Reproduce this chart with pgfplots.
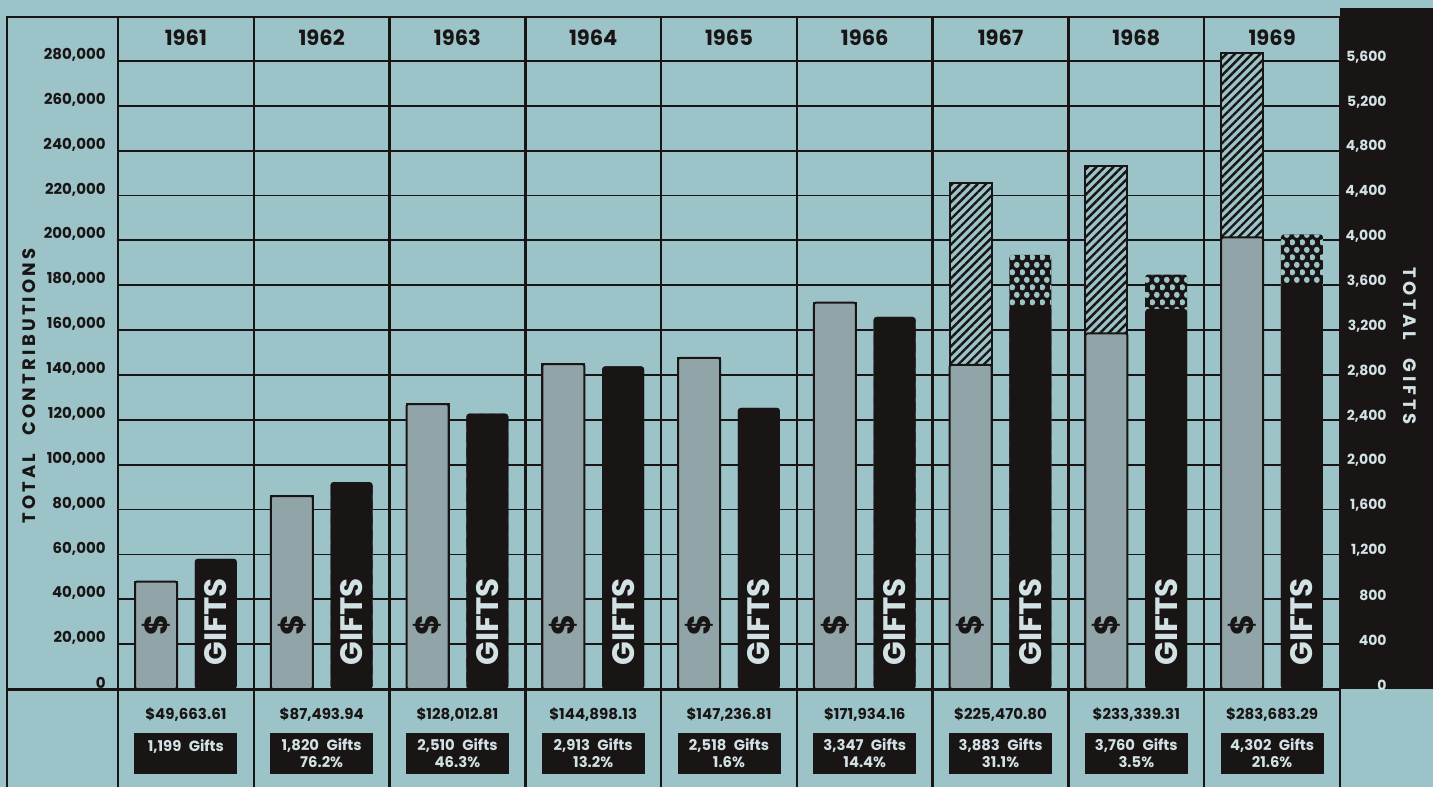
\documentclass[border=0pt]{standalone}
\usepackage{fontspec}
\setmainfont{Poppins}
\usepackage{pgfplots}
\usepackage{pgfplotstable}
\pgfplotsset{compat=1.18}
\usetikzlibrary{patterns,patterns.meta}

\definecolor{paper}{RGB}{155,195,200}
\definecolor{ink}{RGB}{26,21,21}
\definecolor{barg}{RGB}{145,165,168}
\definecolor{chalk}{RGB}{210,226,228}

% light dots punched through the black bars (staggered rows)
\tikzdeclarepattern{
  name=holes, type=uncolored,
  bounding box={(0,0) and (5pt,7.7pt)},
  tile size={(5pt,7.7pt)},
  code={\fill (1.25pt,1.925pt) circle (1.6pt);
        \fill (3.75pt,5.775pt) circle (1.6pt);}
}

% x = column position (one column per year), base = solid part, top = hatched top
\pgfplotstableread{
x     base    top
0.28  47900   47900
1.28  86000   86000
2.28  127000  127000
3.28  144800  144800
4.28  147600  147600
5.28  172200  172200
6.28  144500  225471
7.28  158500  233339
8.28  201300  283683
}\contrib

\pgfplotstableread{
x     base  top
0.72  1160  1160
1.72  1845  1845
2.72  2455  2455
3.72  2876  2876
4.72  2506  2506
5.72  3317  3317
6.72  3407  3871
7.72  3389  3695
8.72  3618  4053
}\gifts

\pgfplotsset{
  chart/.style={
    at={(59pt,49pt)}, anchor=south west, scale only axis,
    width=611pt, height=336.5pt, xmin=0, xmax=9, ymin=0,
    enlargelimits=false, clip=false, axis line style={draw=none},
    xtick=\empty, major tick length=0pt, scaled y ticks=false,
    ybar, bar width=21pt, bar shift=0pt,
    yticklabel style={inner sep=0pt},
  },
}

\newcommand\yr[2]{\node[font=\fontsize{10.5}{12}\selectfont\bfseries, text=ink] at (axis cs:#1,290500) {#2};}
\newcommand\amt[2]{\node[font=\fontsize{7.5}{8}\selectfont\bfseries, text=ink] at (axis cs:#1,-11500) {#2};}
\newcommand\giftbox[2]{\node[fill=ink, text=chalk, minimum width=51.5pt, minimum height=20.5pt, inner sep=0pt,
  align=center, font=\fontsize{7.4}{8.5}\selectfont\bfseries] at (axis cs:#1,-28800) {#2};}

\begin{document}
\begin{tikzpicture}
\fill[paper] (0,0) rectangle (716.5pt,393.5pt);
\fill[ink] (670pt,49pt) rectangle (716.5pt,389.5pt);

\begin{axis}[chart, ymax=300000,
  ytick={0,20000,...,280000},
  yticklabels={0,{20,000},{40,000},{60,000},{80,000},{100,000},{120,000},{140,000},
    {160,000},{180,000},{200,000},{220,000},{240,000},{260,000},{280,000}},
  ymajorgrids, grid style={ink, line width=0.9pt},
  yticklabel style={font=\fontsize{7.5}{9}\selectfont\bfseries, text=ink, anchor=east, xshift=-6pt, yshift=3pt},
]
\addplot[draw=ink, line width=1pt, preaction={fill=paper},
  pattern={Lines[angle=45,distance=3pt,line width=1.2pt]}, pattern color=ink]
  table[x=x, y=top]{\contrib};
\addplot[fill=barg, draw=ink, line width=1pt, rounded corners=1pt]
  table[x=x, y=base]{\contrib};

\yr{0.5}{1961}\yr{1.5}{1962}\yr{2.5}{1963}\yr{3.5}{1964}\yr{4.5}{1965}
\yr{5.5}{1966}\yr{6.5}{1967}\yr{7.5}{1968}\yr{8.5}{1969}

\amt{0.5}{\textdollar49,663.61}\amt{1.5}{\textdollar87,493.94}\amt{2.5}{\textdollar128,012.81}
\amt{3.5}{\textdollar144,898.13}\amt{4.5}{\textdollar147,236.81}\amt{5.5}{\textdollar171,934.16}
\amt{6.5}{\textdollar225,470.80}\amt{7.5}{\textdollar233,339.31}\amt{8.5}{\textdollar283,683.29}

\giftbox{0.5}{1,199\enspace Gifts\\\phantom{0}}
\giftbox{1.5}{1,820\enspace Gifts\\76.2\%}
\giftbox{2.5}{2,510\enspace Gifts\\46.3\%}
\giftbox{3.5}{2,913\enspace Gifts\\13.2\%}
\giftbox{4.5}{2,518\enspace Gifts\\1.6\%}
\giftbox{5.5}{3,347\enspace Gifts\\14.4\%}
\giftbox{6.5}{3,883\enspace Gifts\\31.1\%}
\giftbox{7.5}{3,760\enspace Gifts\\3.5\%}
\giftbox{8.5}{4,302\enspace Gifts\\21.6\%}

\pgfplotsinvokeforeach{0,...,8}{
  \node[rotate=90, text=ink, font=\fontsize{16}{16}\selectfont\bfseries]
    at (axis cs:#1.28,28500) {\textdollar};
}
\end{axis}

\begin{axis}[chart, ymax=6000,
  ytick={0,400,...,5600}, yticklabel pos=right,
  yticklabels={0,400,800,{1,200},{1,600},{2,000},{2,400},{2,800},{3,200},{3,600},
    {4,000},{4,400},{4,800},{5,200},{5,600}},
  yticklabel style={font=\fontsize{7}{9}\selectfont\bfseries, text=chalk, anchor=east, xshift=23.5pt, yshift=2pt},
]
\addplot[draw=none, preaction={fill=ink}, pattern=holes, pattern color=paper, rounded corners=1.5pt]
  table[x=x, y=top]{\gifts};
\addplot[fill=ink, draw=none, rounded corners=1.5pt]
  table[x=x, y=base]{\gifts};
\pgfplotsinvokeforeach{0,...,8}{
  \node[rotate=90, text=chalk, font=\fontsize{15.5}{16}\selectfont\bfseries]
    at (axis cs:#1.72,600) {GIFTS};
}
\end{axis}

\draw[ink, line width=1.2pt] (3.5pt,0) -- (3.5pt,385pt) -- (670pt,385pt);
\draw[ink, line width=1.5pt] (3.5pt,49pt) -- (670pt,49pt);
\foreach \i in {0,...,9}
  \draw[ink, line width=1.2pt] (59pt+\i*67.8889pt,0) -- ++(0,385pt);

\node[rotate=90, text=ink, font=\fontsize{9}{10}\selectfont\bfseries\addfontfeatures{LetterSpace=18}]
  at (14.5pt,200.5pt) {TOTAL\quad CONTRIBUTIONS};
\node[rotate=-90, text=chalk, font=\fontsize{9}{10}\selectfont\bfseries\addfontfeatures{LetterSpace=22}]
  at (705pt,220.5pt) {TOTAL\quad GIFTS};
\end{tikzpicture}
\end{document}
